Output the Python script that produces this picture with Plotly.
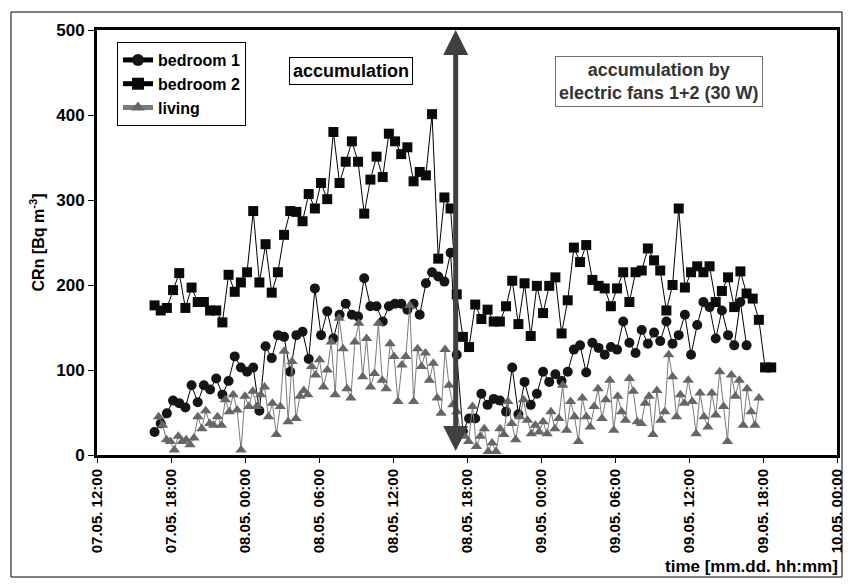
import pandas as pd
import plotly.graph_objects as go

# ---------------- data ----------------
bedroom1 = [27, 37, 49, 64, 61, 56, 82, 62, 82, 77, 90, 71, 87, 116, 103, 98, 103, 52, 128, 114,
            141, 139, 98, 141, 145, 113, 196, 141, 169, 137, 165, 178, 165, 163, 208, 175, 175, 157, 175, 178,
            178, 171, 178, 165, 202, 215, 210, 204, 238, 118, 28, 43, 43, 72, 59, 66, 64, 51, 103, 48,
            86, 59, 72, 98, 86, 95, 87, 98, 124, 129, 97, 132, 126, 118, 127, 124, 157, 132, 120, 147,
            131, 144, 134, 157, 131, 141, 165, 118, 153, 180, 174, 137, 170, 141, 129, 180, 129]

bedroom2 = [176, 170, 173, 194, 214, 173, 197, 180, 180, 170, 170, 156, 212, 192, 203, 215, 287, 203, 248, 191,
            215, 259, 287, 286, 275, 307, 290, 320, 301, 380, 320, 345, 369, 345, 284, 324, 351, 327, 378, 369,
            354, 362, 322, 333, 329, 401, 231, 303, 290, 189, 139, 127, 177, 160, 171, 157, 157, 175, 205, 154,
            202, 140, 199, 167, 199, 209, 143, 182, 244, 227, 247, 206, 199, 196, 175, 196, 215, 180, 215, 217,
            243, 229, 217, 170, 200, 290, 197, 215, 222, 215, 222, 180, 193, 209, 174, 216, 190, 184, 159, 103,
            103]

living = [45, 35, 18, 16, 6, 22, 16, 18, 12, 20, 45, 31, 52, 37, 35, 45, 35, 65, 51, 71,
          53, 6, 69, 57, 75, 57, 71, 80, 45, 61, 24, 57, 122, 39, 110, 43, 69, 76, 71, 104,
          94, 112, 80, 100, 133, 71, 161, 125, 78, 67, 133, 155, 92, 137, 80, 96, 155, 88, 78, 131,
          116, 63, 106, 116, 176, 63, 125, 104, 120, 88, 108, 67, 49, 124,
          82, 59, 51, 25, 22, 16, 57, 10, 22, 31, 4, 14, 4, 31, 24, 63, 37, 18, 45, 65,
          41, 25, 35, 27, 39, 25, 51, 31, 43, 82, 29, 63, 45, 16, 67, 45, 33, 57, 78, 43,
          65, 88, 29, 69, 51, 41, 90, 75, 39, 37, 61, 69, 24, 76, 41, 51, 118, 92, 45, 71,
          61, 88, 63, 25, 73, 45, 33, 73, 47, 98, 57, 16, 94, 69, 88, 35, 78, 51, 35, 67]

bedroom_start = "2009-05-07 16:40"
bedroom_step = "30min"
living_start = "2009-05-07 17:00"
living_end = "2009-05-09 17:40"
switch_time = "2009-05-08 17:05"
x_range = ["2009-05-07 12:00", "2009-05-10 00:00"]
y_range = [0, 500]

t_b1 = pd.date_range(bedroom_start, periods=len(bedroom1), freq=bedroom_step)
t_b2 = pd.date_range(bedroom_start, periods=len(bedroom2), freq=bedroom_step)
t_lv = pd.date_range(living_start, living_end, periods=len(living))

FONT = "Arial, 'Liberation Sans', sans-serif"

fig = go.Figure()
fig.add_trace(go.Scatter(x=t_b1, y=bedroom1, name="<b>bedroom 1</b>", mode="lines+markers",
                         line=dict(color="#000000", width=1),
                         marker=dict(symbol="circle", size=10, color="#151515")))
fig.add_trace(go.Scatter(x=t_b2, y=bedroom2, name="<b>bedroom 2</b>", mode="lines+markers",
                         line=dict(color="#000000", width=1),
                         marker=dict(symbol="square", size=10, color="#0a0a0a")))
fig.add_trace(go.Scatter(x=t_lv, y=living, name="<b>living</b>", mode="lines+markers",
                         line=dict(color="#7a7a7a", width=1),
                         marker=dict(symbol="triangle-up", size=10, color="#666666")))

# double-headed arrow marking the switch
fig.add_annotation(x=switch_time, y=500, ax=switch_time, ay=3, xref="x", yref="y",
                   axref="x", ayref="y", text="", showarrow=True,
                   arrowhead=2, arrowsize=1.0, arrowwidth=5, arrowcolor="#404040",
                   arrowside="end+start", startarrowhead=2, startarrowsize=1.0)

fig.add_annotation(xref="paper", yref="paper", x=(351 - 97) / 740, y=(455 - 71) / 425,
                   xanchor="center", yanchor="middle", text="<b>accumulation</b>",
                   showarrow=False, font=dict(family=FONT, size=18, color="#000000"),
                   bordercolor="#000000", borderwidth=1, borderpad=3, bgcolor="#ffffff")
fig.add_annotation(xref="paper", yref="paper", x=(659 - 97) / 740, y=(455 - 82) / 425,
                   xanchor="center", yanchor="middle",
                   text="<b>accumulation by<br>electric fans 1+2 (30 W)</b>",
                   showarrow=False, font=dict(family=FONT, size=18, color="#333333"),
                   bordercolor="#707070", borderwidth=1, borderpad=3, bgcolor="#ffffff")

fig.add_annotation(xref="paper", yref="paper", x=(840 - 97) / 740, y=(455 - 566) / 425,
                   xanchor="right", yanchor="middle",
                   text="<b>time [mm.dd. hh:mm]</b>", showarrow=False,
                   font=dict(family="'Liberation Sans Narrow', 'Arial Narrow', Arial, sans-serif",
                             size=17, color="#000000"))

# outer frame
fig.add_shape(type="rect", xref="paper", yref="paper",
              x0=(11 - 97) / 740, x1=(842 - 97) / 740, y0=(455 - 577) / 425, y1=(455 - 12) / 425,
              line=dict(color="#000000", width=1), fillcolor="rgba(0,0,0,0)", layer="below")

fig.update_layout(
    width=848, height=585,
    margin=dict(l=97, r=11, t=30, b=130, autoexpand=False),
    paper_bgcolor="#ffffff", plot_bgcolor="#ffffff",
    font=dict(family=FONT, size=15, color="#000000"),
    showlegend=True,
    legend=dict(x=(117 - 97) / 740, y=(455 - 42) / 425, xanchor="left", yanchor="top",
                bordercolor="#000000", borderwidth=1, bgcolor="#ffffff",
                font=dict(family=FONT, size=16, color="#000000"),
                itemsizing="constant", itemwidth=30),
)

fig.update_xaxes(range=x_range, type="date", dtick=6 * 3600 * 1000, tick0="2009-05-07 12:00",
                 tickformat="%d.%m. %H:%M", tickangle=-90, automargin=False,
                 showgrid=False, zeroline=False, showline=True, linewidth=3, linecolor="#000000",
                 mirror=True, ticks="outside", ticklen=5, tickwidth=1, tickcolor="#000000",
                 tickprefix="<b>", ticksuffix="</b>",
                 tickfont=dict(family=FONT, size=15, color="#000000"))
fig.update_yaxes(range=y_range, dtick=100, showgrid=False, zeroline=False, showline=True,
                 linewidth=3, linecolor="#000000", mirror=True, ticks="outside", ticklen=6,
                 tickwidth=1, tickcolor="#000000", automargin=False,
                 tickprefix="<b>", ticksuffix="</b>",
                 tickfont=dict(family=FONT, size=17, color="#000000"),
                 title=dict(text="<b>CRn [Bq m<sup>-3</sup>]</b>", standoff=8,
                            font=dict(family=FONT, size=16, color="#000000")))

fig.write_html("out.html", config={"displayModeBar": False},
               post_script="document.body.style.margin='0px';")
